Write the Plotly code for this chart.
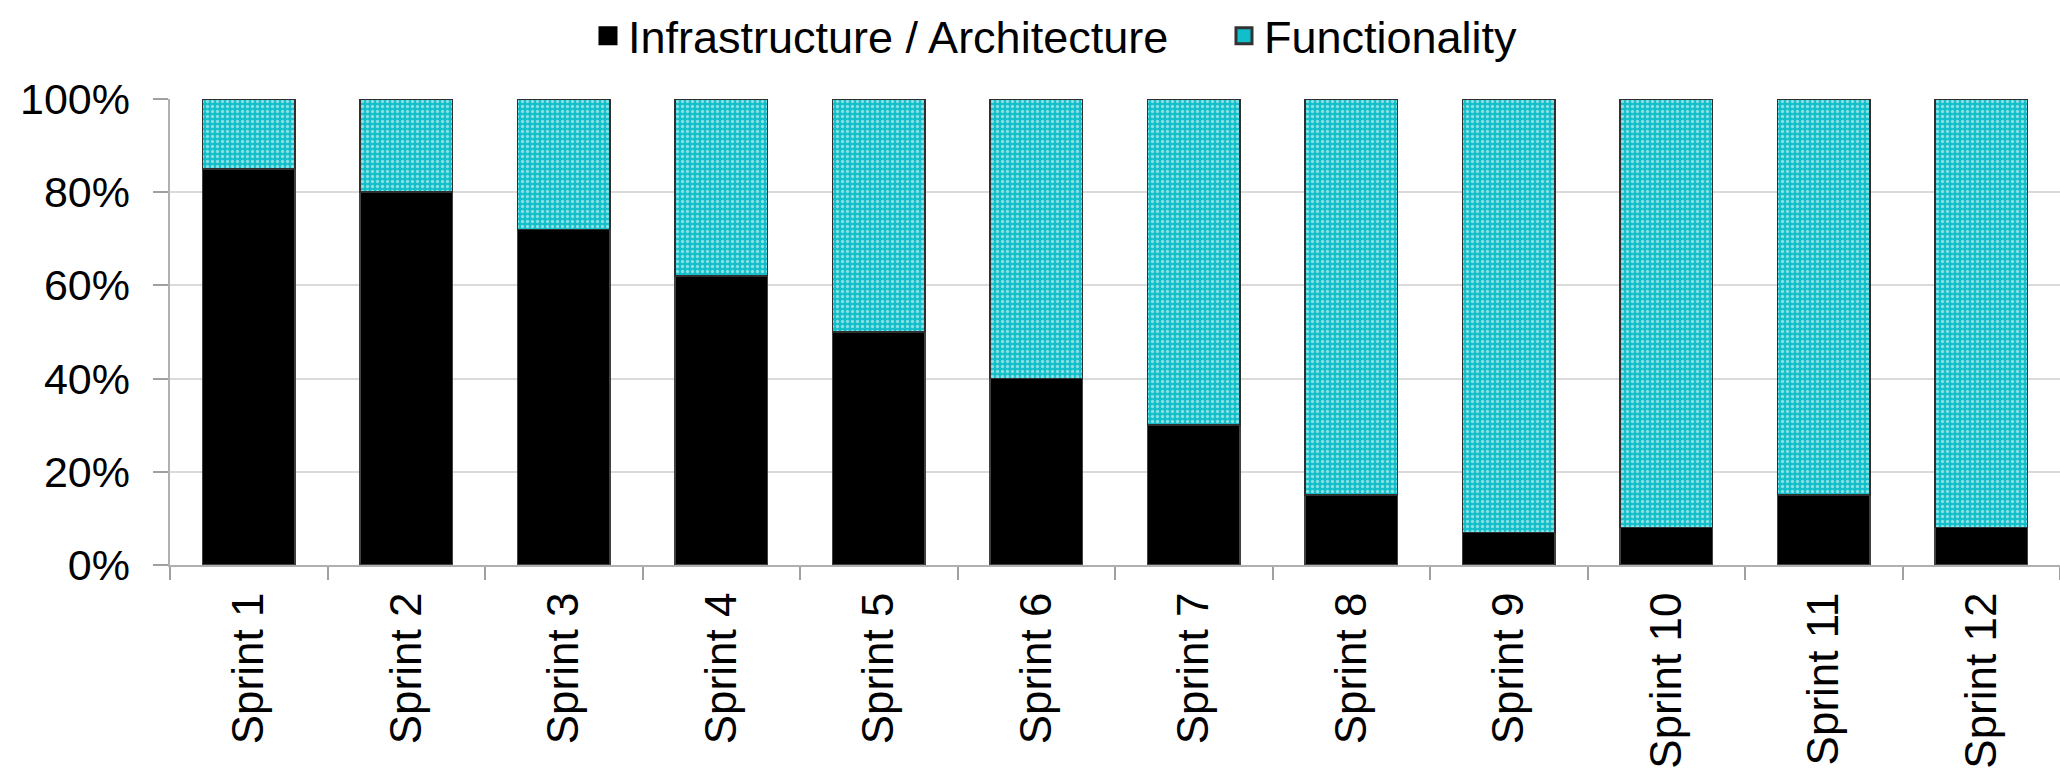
import plotly.graph_objects as go

sprints = [f"Sprint {i}" for i in range(1, 13)]
infrastructure = [85, 80, 72, 62, 50, 40, 30, 15, 7, 8, 15, 8]
functionality = [15, 20, 28, 38, 50, 60, 70, 85, 93, 92, 85, 92]
y_ticks = [0, 20, 40, 60, 80, 100]
y_tick_labels = ["0%", "20%", "40%", "60%", "80%", "100%"]
series_names = ["Infrastructure / Architecture", "Functionality"]

FONT = "Liberation Sans, Arial, sans-serif"
TEAL = "#10BFC9"

fig = go.Figure()
fig.add_trace(go.Bar(
    x=sprints, y=infrastructure, name=series_names[0], showlegend=False,
    marker=dict(color="black", line=dict(color="#404040", width=1.5)),
))
fig.add_trace(go.Bar(
    x=sprints, y=functionality, name=series_names[1], showlegend=False,
    marker=dict(color=TEAL, line=dict(color="#303030", width=1.5),
                pattern=dict(shape=".", fgcolor="white", bgcolor=TEAL,
                             size=5, solidity=0.35)),
))
# legend entries (larger square swatches)
fig.add_trace(go.Scatter(
    x=[sprints[0]], y=[None], mode="markers", name=series_names[0],
    marker=dict(symbol="square", size=16, color="black",
                line=dict(color="black", width=3)),
))
fig.add_trace(go.Scatter(
    x=[sprints[0]], y=[None], mode="markers", name=series_names[1],
    marker=dict(symbol="square", size=16, color=TEAL,
                line=dict(color="#333333", width=3)),
))
# invisible trace carrying the offset y tick labels
fig.add_trace(go.Scatter(
    x=[sprints[0]], y=[None], yaxis="y2", showlegend=False, hoverinfo="skip",
))

fig.update_layout(
    barmode="stack",
    bargap=0.415,
    width=2060, height=775,
    margin=dict(l=130, r=0, t=99, b=210),
    paper_bgcolor="white", plot_bgcolor="white",
    font=dict(family=FONT, size=44, color="black"),
    legend=dict(orientation="h", x=0.2373, xanchor="left",
                yref="container", y=1.0, yanchor="top",
                font=dict(family=FONT, size=45), itemwidth=30,
                entrywidth=591, entrywidthmode="pixels",
                traceorder="normal"),
    showlegend=True,
    xaxis=dict(domain=[40 / 1930, 1]),
    yaxis2=dict(overlaying="y", anchor="free", position=0, side="left",
                range=[0, 100], tickvals=y_ticks, ticktext=y_tick_labels,
                ticks="", showline=False, showgrid=False, zeroline=False,
                automargin=False,
                tickfont=dict(family=FONT, size=43)),
)
fig.update_xaxes(
    type="category", tickangle=-90, range=[-0.5, len(sprints) - 0.5],
    showline=True, linecolor="#b0b0b0", linewidth=2,
    ticks="outside", tickson="boundaries", ticklen=13, tickcolor="#a0a0a0", tickwidth=2,
    ticklabelstandoff=8, automargin=False,
    tickfont=dict(family=FONT, size=44),
    showgrid=False,
)
fig.layout.yaxis.update(
    range=[0, 100], tickvals=y_ticks, showticklabels=False,
    showline=True, linecolor="#b0b0b0", linewidth=2,
    ticks="outside", ticklen=15, tickcolor="#a0a0a0", tickwidth=2,
    showgrid=True, gridcolor="#dadada", gridwidth=2,
    zeroline=False, automargin=False,
)

fig.write_html("out.html")
